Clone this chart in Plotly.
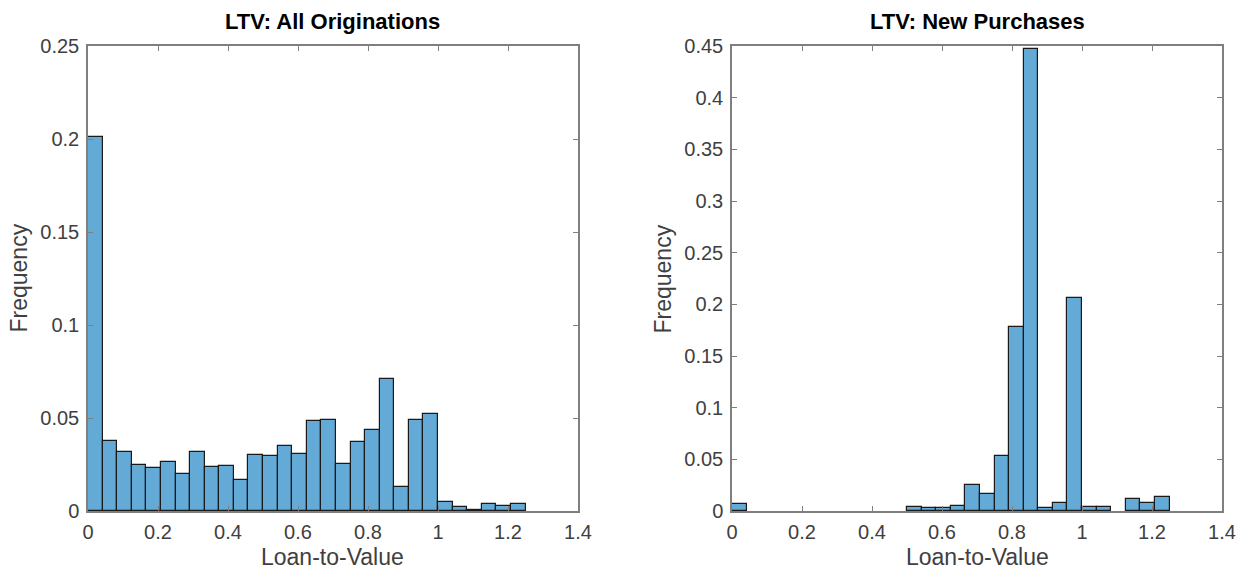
import plotly.graph_objects as go

# Bin edges: 30 equal bins from 0 to 1.25
n_bins = 30
bin_lo = 0.0
bin_hi = 1.25

all_orig = [0.201, 0.0379, 0.0318, 0.0246, 0.0230, 0.0266, 0.0201, 0.0318, 0.0237, 0.0243,
            0.0167, 0.0300, 0.0295, 0.0350, 0.0309, 0.0484, 0.0490, 0.0253, 0.0370, 0.0433,
            0.0712, 0.0129, 0.0490, 0.0521, 0.0047, 0.0020, 0.0005, 0.0036, 0.0027, 0.0036]

new_purch = [0.0070, 0, 0, 0, 0, 0, 0, 0, 0, 0,
             0, 0, 0.0036, 0.0033, 0.0026, 0.0052, 0.0256, 0.0164, 0.0534, 0.1780,
             0.4470, 0.0026, 0.0075, 0.2065, 0.0036, 0.0036, 0, 0.0118, 0.0075, 0.0140]

titles = ["LTV: All Originations", "LTV: New Purchases"]
x_label = "Loan-to-Value"
y_label = "Frequency"
x_ticks = [0, 0.2, 0.4, 0.6, 0.8, 1, 1.2, 1.4]
x_ticktext = ["0", "0.2", "0.4", "0.6", "0.8", "1", "1.2", "1.4"]
y_ticks_left = [0, 0.05, 0.1, 0.15, 0.2, 0.25]
y_ticktext_left = ["0", "0.05", "0.1", "0.15", "0.2", "0.25"]
y_ticks_right = [0, 0.05, 0.1, 0.15, 0.2, 0.25, 0.3, 0.35, 0.4, 0.45]
y_ticktext_right = ["0", "0.05", "0.1", "0.15", "0.2", "0.25", "0.3", "0.35", "0.4", "0.45"]

W, H = 1239, 573
bw = (bin_hi - bin_lo) / n_bins
centers = [bin_lo + (i + 0.5) * bw for i in range(n_bins)]


def nz(vals):
    # empty bins are not drawn
    return [v if v > 0 else None for v in vals]


bar_color = "rgb(99,170,215)"
frame_color = "#7f7f7f"
FONT = "Liberation Sans, Arial, sans-serif"
tick_font = dict(family=FONT, size=20, color="#404040")
label_font = dict(family=FONT, size=23, color="#404040")
title_font = dict(family=FONT, size=22, color="black")

fig = go.Figure()
fig.add_trace(go.Bar(x=centers, y=nz(all_orig), width=bw, xaxis="x", yaxis="y",
                     marker=dict(color=bar_color, line=dict(color="#1a1a1a", width=1.2)),
                     showlegend=False))
fig.add_trace(go.Bar(x=centers, y=nz(new_purch), width=bw, xaxis="x2", yaxis="y2",
                     marker=dict(color=bar_color, line=dict(color="#1a1a1a", width=1.2)),
                     showlegend=False))

y_top = 1 - 46 / H
y_bot = 1 - 511 / H
dom_l = [88 / W, 578 / W]
dom_r = [732 / W, 1222 / W]

common_x = dict(range=[0, 1.4], tickvals=x_ticks, ticktext=x_ticktext, ticks="inside",
                ticklen=5, tickcolor=frame_color, showline=True, linecolor=frame_color,
                linewidth=1.5, mirror="ticks", showgrid=False, zeroline=False,
                tickfont=tick_font, fixedrange=True, automargin=False,
                ticklabelstandoff=2)
common_y = dict(ticks="inside", ticklen=5, tickcolor=frame_color, showline=True,
                linecolor=frame_color, linewidth=1.5, mirror="ticks", showgrid=False,
                zeroline=False, tickfont=tick_font, fixedrange=True, automargin=False,
                ticklabelstandoff=3)

annotations = []
for dom, title in zip([dom_l, dom_r], titles):
    cx = (dom[0] + dom[1]) / 2
    annotations.append(dict(text="<b>" + title + "</b>", x=cx, y=1 - 22 / H,
                            xref="paper", yref="paper", showarrow=False,
                            xanchor="center", yanchor="middle", font=title_font))
    annotations.append(dict(text=x_label, x=cx, y=1 - 571 / H,
                            xref="paper", yref="paper", showarrow=False,
                            xanchor="center", yanchor="bottom", font=label_font,
                            borderpad=0))
    annotations.append(dict(text=y_label, x=(dom[0] * W - 70) / W, y=(y_top + y_bot) / 2,
                            xref="paper", yref="paper", showarrow=False, textangle=-90,
                            xanchor="center", yanchor="middle", font=label_font))

fig.update_layout(
    width=W, height=H,
    margin=dict(l=0, r=0, t=0, b=0, autoexpand=False),
    paper_bgcolor="white", plot_bgcolor="white",
    bargap=0,
    xaxis=dict(domain=dom_l, anchor="y", **common_x),
    yaxis=dict(domain=[y_bot, y_top], anchor="x", range=[0, 0.25],
               tickvals=y_ticks_left, ticktext=y_ticktext_left, **common_y),
    xaxis2=dict(domain=dom_r, anchor="y2", **common_x),
    yaxis2=dict(domain=[y_bot, y_top], anchor="x2", range=[0, 0.45],
                tickvals=y_ticks_right, ticktext=y_ticktext_right, **common_y),
    annotations=annotations,
)

fig.write_html("out.html", config={"displayModeBar": False},
               post_script="document.body.style.margin='0px';")
